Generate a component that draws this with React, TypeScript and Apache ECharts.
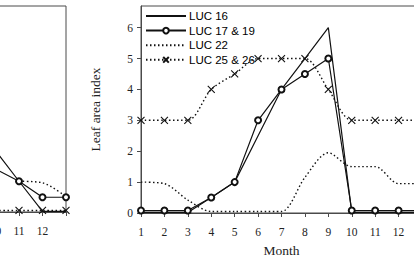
import React, { useEffect, useRef } from "react";
import * as echarts from "echarts";

// Months on the x axis (13 closes the annual cycle at the frame edge)
const months = [1, 2, 3, 4, 5, 6, 7, 8, 9, 10, 11, 12, 13];
const monthTicks = [1, 2, 3, 4, 5, 6, 7, 8, 9, 10, 11, 12];
const leftMonthTicks = [10, 11, 12];
const yTicks = [0, 1, 2, 3, 4, 5, 6];

// Main panel: leaf area index per land-use class
const luc16 = [0.02, 0.02, 0.02, 0.5, 1, 2.5, 4, 5, 6, 0.02, 0.02, 0.02, 0.02];
const luc1719 = [0.08, 0.08, 0.08, 0.5, 1, 3, 4, 4.5, 5, 0.08, 0.08, 0.08, 0.08];
const luc22 = [1.0, 0.95, 0.42, 0.05, 0.05, 0.05, 0.05, 1.15, 1.95, 1.5, 1.5, 0.95, 0.95];
const luc2526 = [3, 3, 3, 4, 4.5, 5, 5, 5, 4, 3, 3, 3, 3];

// Neighbouring panel (only its last months fall inside the page)
const leftMonths = [10, 11, 12, 13];
const leftLuc16 = [2.0, 1.0, 0.02, 0.02];
const leftLuc1719 = [1.4, 1.0, 0.48, 0.48];
const leftLuc22 = [null, 1.0, 0.95, 0.5];
const leftLuc2526 = [0.05, 0.05, 0.05, 0.05];

const names = ["LUC 16", "LUC 17 & 19", "LUC 22", "LUC 25 & 26"];

const pairs = (xs: number[], ys: (number | null)[]) =>
  xs.map((x, i) => [x, ys[i]]).filter((p) => p[1] !== null);

const SERIF = "Liberation Serif";
const AXIS = "#4a4a4a";
const CROSS = "path://M0,0L10,10M10,0L0,10";
const DOTS = [1.5, 2.5];

// The canvas is wider than the page: the neighbouring panel starts off to the left
const SHIFT = 216;
const CANVAS_W = 414 + SHIFT + 8;

export default function App() {
  const ref = useRef<HTMLDivElement>(null);

  useEffect(() => {
    if (!ref.current) return;
    const chart = echarts.init(ref.current, undefined, { renderer: "svg" });

    const xAxisBase = (gridIndex: number, ticks: number[]) => ({
      type: "value" as const,
      gridIndex,
      min: 1,
      max: 13,
      interval: 1,
      axisLine: { lineStyle: { color: AXIS, width: 1 } },
      axisTick: { length: 4, lineStyle: { color: AXIS } },
      axisLabel: {
        margin: 13,
        fontFamily: SERIF,
        fontSize: 11.5,
        color: "#222",
        formatter: (v: number) => (ticks.includes(v) ? String(v) : ""),
      },
      splitLine: { show: false },
    });

    const yAxisBase = (gridIndex: number, labels: boolean) => ({
      type: "value" as const,
      gridIndex,
      min: 0,
      max: 6.7,
      interval: 1,
      axisLine: { show: true, lineStyle: { color: AXIS, width: 1 } },
      axisTick: { show: true, length: 4, lineStyle: { color: AXIS } },
      axisLabel: {
        show: labels,
        margin: 8,
        fontFamily: SERIF,
        fontSize: 11.5,
        color: "#222",
        showMaxLabel: false,
        formatter: (v: number) => (yTicks.includes(v) ? String(v) : ""),
      },
      splitLine: { show: false },
    });

    const plain = (name: string, data: any[], xi: number) => ({
      name,
      type: "line" as const,
      xAxisIndex: xi,
      yAxisIndex: xi,
      data,
      showSymbol: false,
      symbol: "none",
      lineStyle: { color: "#111", width: 1.2 },
      itemStyle: { color: "#111" },
      z: 3,
    });
    const circles = (name: string, data: any[], xi: number) => ({
      name,
      type: "line" as const,
      xAxisIndex: xi,
      yAxisIndex: xi,
      data,
      symbol: "emptyCircle",
      symbolSize: 6,
      lineStyle: { color: "#111", width: 1.2 },
      itemStyle: { color: "#111", borderColor: "#111", borderWidth: 0.9 },
      z: 4,
    });
    const dotted = (name: string, data: any[], xi: number) => ({
      name,
      type: "line" as const,
      xAxisIndex: xi,
      yAxisIndex: xi,
      data,
      smooth: 0.3,
      symbol: "none",
      lineStyle: { color: "#111", width: 1.4, type: DOTS },
      itemStyle: { color: "#111" },
      z: 2,
    });
    const crosses = (name: string, data: any[], xi: number) => ({
      name,
      type: "line" as const,
      xAxisIndex: xi,
      yAxisIndex: xi,
      data,
      smooth: 0.3,
      symbol: CROSS,
      symbolSize: 7,
      lineStyle: { color: "#111", width: 1.4, type: DOTS },
      itemStyle: { color: "#111", borderColor: "#111", borderWidth: 1.1 },
      z: 2,
    });

    chart.setOption({
      animation: false,
      backgroundColor: "#fff",
      grid: [
        {
          left: 141 + SHIFT,
          right: 0,
          top: 6,
          bottom: 45,
          show: true,
          borderColor: AXIS,
          borderWidth: 1,
          containLabel: false,
          outerBoundsMode: "none",
        },
        {
          left: 0,
          right: CANVAS_W - (66 + SHIFT),
          top: 6,
          bottom: 46,
          show: true,
          borderColor: AXIS,
          borderWidth: 1,
          containLabel: false,
          outerBoundsMode: "none",
        },
      ],
      legend: {
        data: [
          { name: names[0], itemStyle: { opacity: 0 } },
          { name: names[1] },
          { name: names[2], itemStyle: { opacity: 0 } },
          { name: names[3] },
        ],
        orient: "vertical",
        left: 145 + SHIFT,
        top: 10,
        padding: 0,
        itemWidth: 40,
        itemHeight: 7,
        itemGap: 2.6,
        selectedMode: false,
        textStyle: {
          fontFamily: "Liberation Sans",
          fontSize: 11.5,
          color: "#000",
          lineHeight: 12,
          padding: [0, 0, 0, -2],
        },
      },
      xAxis: [
        {
          ...xAxisBase(0, monthTicks),
          name: "Month",
          nameLocation: "middle",
          nameGap: 30,
          nameTextStyle: { fontFamily: SERIF, fontSize: 13.5, color: "#222" },
        },
        xAxisBase(1, leftMonthTicks),
      ],
      yAxis: [
        {
          ...yAxisBase(0, true),
          name: "Leaf area index",
          nameLocation: "middle",
          nameRotate: 90,
          nameGap: 39,
          nameTextStyle: { fontFamily: SERIF, fontSize: 13.5, color: "#222" },
        },
        yAxisBase(1, false),
      ],
      series: [
        plain(names[0], pairs(months, luc16), 0),
        circles(names[1], pairs(months, luc1719), 0),
        dotted(names[2], pairs(months, luc22), 0),
        crosses(names[3], pairs(months, luc2526), 0),
        plain(names[0], pairs(leftMonths, leftLuc16), 1),
        circles(names[1], pairs(leftMonths, leftLuc1719), 1),
        dotted(names[2], pairs(leftMonths, leftLuc22), 1),
        crosses(names[3], pairs(leftMonths, leftLuc2526), 1),
      ],
    });

    return () => chart.dispose();
  }, []);

  return (
    <div
      style={{
        position: "absolute",
        left: 0,
        top: 0,
        width: 414,
        height: 258,
        overflow: "hidden",
        background: "#fff",
      }}
    >
      <div
        ref={ref}
        style={{ position: "absolute", left: -SHIFT, top: 0, width: CANVAS_W, height: 258 }}
      />
    </div>
  );
}
